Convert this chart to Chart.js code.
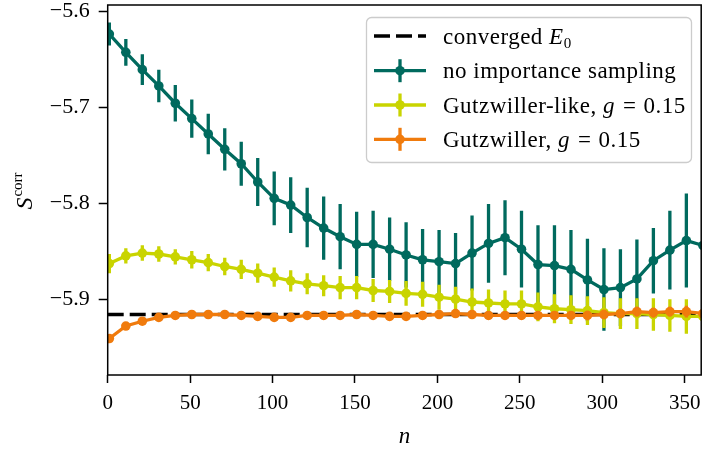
<!DOCTYPE html>
<html><head><meta charset="utf-8">
<script src="https://cdn.jsdelivr.net/npm/chart.js@4/dist/chart.umd.min.js"></script>
<style>html,body{margin:0;padding:0;background:#fff}#wrap{width:706px;height:450px}</style>
</head><body><div id="wrap"><canvas id="c" width="706" height="450"></canvas></div>
<script>
// ---- data ----
const nValues = [1,11,21,31,41,51,61,71,81,91,101,111,121,131,141,151,161,171,181,191,201,211,221,231,241,251,261,271,281,291,301,311,321,331,341,351,361];
const noImportance = [-5.624,-5.643,-5.661,-5.678,-5.696,-5.712,-5.728,-5.744,-5.759,-5.778,-5.795,-5.802,-5.815,-5.826,-5.835,-5.843,-5.843,-5.848,-5.854,-5.859,-5.861,-5.863,-5.852,-5.842,-5.836,-5.848,-5.864,-5.865,-5.869,-5.880,-5.890,-5.888,-5.879,-5.860,-5.849,-5.839,-5.844];
const noImportanceErr = [0.012,0.014,0.016,0.017,0.019,0.020,0.021,0.022,0.023,0.025,0.028,0.029,0.031,0.033,0.034,0.034,0.035,0.033,0.034,0.032,0.033,0.032,0.039,0.041,0.039,0.040,0.041,0.042,0.041,0.043,0.043,0.040,0.041,0.034,0.041,0.049,0.050];
const gutzLike = [-5.863,-5.855,-5.852,-5.853,-5.856,-5.859,-5.862,-5.866,-5.869,-5.873,-5.877,-5.881,-5.884,-5.886,-5.888,-5.888,-5.891,-5.892,-5.894,-5.895,-5.898,-5.900,-5.903,-5.904,-5.905,-5.905,-5.908,-5.910,-5.911,-5.912,-5.914,-5.915,-5.915,-5.916,-5.917,-5.918,-5.918];
const gutzLikeErr = [0.010,0.008,0.008,0.008,0.008,0.009,0.009,0.009,0.010,0.010,0.010,0.011,0.011,0.011,0.012,0.012,0.012,0.012,0.013,0.013,0.013,0.013,0.014,0.014,0.014,0.014,0.015,0.015,0.015,0.015,0.016,0.016,0.016,0.017,0.017,0.018,0.018];
const gutz = [-5.941,-5.928,-5.923,-5.919,-5.917,-5.916,-5.916,-5.916,-5.917,-5.918,-5.919,-5.919,-5.917,-5.917,-5.917,-5.916,-5.917,-5.918,-5.918,-5.917,-5.916,-5.915,-5.916,-5.917,-5.917,-5.917,-5.917,-5.917,-5.917,-5.917,-5.916,-5.915,-5.913,-5.914,-5.913,-5.913,-5.915];
const gutzErr = [0.001,0.001,0.001,0.001,0.001,0.001,0.002,0.002,0.002,0.002,0.002,0.002,0.002,0.002,0.003,0.003,0.003,0.003,0.003,0.003,0.003,0.003,0.004,0.004,0.004,0.004,0.004,0.004,0.004,0.005,0.005,0.005,0.005,0.005,0.005,0.006,0.006];
const convergedE0 = -5.916;
const convergedRange = [0, 360];
const xTicks = [0,50,100,150,200,250,300,350];
const yTicks = [-5.9,-5.8,-5.7,-5.6];
const legendLabels = ['converged E0','no importance sampling','Gutzwiller-like, g = 0.15','Gutzwiller, g = 0.15'];

const TEAL = '#006a5e', YEL = '#c9d400', ORA = '#f07b0d';
const SERIF = '"Liberation Serif", "DejaVu Serif", serif';
const LW = 3.3, PR = 4.8;

function pts(ys){ return nValues.map((n,i)=>({x:n,y:ys[i]})); }

const errorBars = {
  id:'errorBars',
  afterDatasetDraw(chart, args){
    const ds = chart.data.datasets[args.index];
    if(!ds.errors) return;
    const {ctx, chartArea:a, scales:{x,y}} = chart;
    ctx.save();
    ctx.beginPath(); ctx.rect(a.left,a.top,a.right-a.left,a.bottom-a.top); ctx.clip();
    ctx.strokeStyle = ds.borderColor; ctx.lineWidth = LW; ctx.lineCap='butt';
    ds.data.forEach((p,i)=>{
      const e = ds.errors[i], px = x.getPixelForValue(p.x);
      ctx.beginPath();
      ctx.moveTo(px, y.getPixelForValue(p.y-e));
      ctx.lineTo(px, y.getPixelForValue(p.y+e));
      ctx.stroke();
    });
    ctx.restore();
  }
};

function drawRich(ctx, x, y, parts){
  let cx = x;
  parts.forEach(p=>{
    ctx.font = (p.it?'italic ':'') + (p.size||23) + 'px ' + SERIF;
    ctx.fillText(p.t, cx, y + (p.dy||0));
    cx += ctx.measureText(p.t).width + (p.after||0);
  });
}

const decor = {
  id:'decor',
  afterDraw(chart){
    const {ctx, chartArea:a} = chart;
    ctx.save();
    // frame
    ctx.strokeStyle='#000'; ctx.lineWidth=1.5;
    ctx.strokeRect(a.left, a.top, a.right-a.left, a.bottom-a.top);
    // legend box
    ctx.beginPath();
    ctx.roundRect(366.5, 17.5, 325, 145, 5);
    ctx.fillStyle='rgba(255,255,255,0.85)'; ctx.fill();
    ctx.strokeStyle='#cccccc'; ctx.lineWidth=1.3; ctx.stroke();
    const rows=[36,70.7,105,139.3];
    const hx0=374, hx1=426, hxm=400;
    ctx.strokeStyle='#000'; ctx.lineWidth=LW; ctx.setLineDash([16,6]);
    ctx.beginPath(); ctx.moveTo(hx0,rows[0]); ctx.lineTo(hx1,rows[0]); ctx.stroke();
    ctx.setLineDash([]);
    [TEAL,YEL,ORA].forEach((c,i)=>{
      const yy=rows[i+1];
      ctx.strokeStyle=c; ctx.fillStyle=c; ctx.lineWidth=LW;
      ctx.beginPath(); ctx.moveTo(hx0,yy); ctx.lineTo(hx1,yy); ctx.stroke();
      ctx.beginPath(); ctx.moveTo(hxm,yy-11.5); ctx.lineTo(hxm,yy+11.5); ctx.stroke();
      ctx.beginPath(); ctx.arc(hxm,yy,PR,0,Math.PI*2); ctx.fill();
    });
    ctx.fillStyle='#000'; ctx.textBaseline='alphabetic'; ctx.textAlign='left';
    ctx.letterSpacing='0.5px';
    const tx=443, off=7.5;
    drawRich(ctx, tx, rows[0]+off, [{t:'converged '},{t:'E',it:true},{t:'0',size:15,dy:4}]);
    drawRich(ctx, tx, rows[1]+off, [{t:'no importance sampling'}]);
    drawRich(ctx, tx, rows[2]+off, [{t:'Gutzwiller-like, '},{t:'g',it:true,after:8},{t:'=',after:7},{t:'0.15'}]);
    drawRich(ctx, tx, rows[3]+off, [{t:'Gutzwiller, '},{t:'g',it:true,after:8},{t:'=',after:7},{t:'0.15'}]);
    ctx.letterSpacing='0px';
    // x title
    ctx.textAlign='center';
    ctx.font='italic 23px '+SERIF;
    ctx.fillText('n', (a.left+a.right)/2, 443);
    // y title
    ctx.save();
    ctx.translate(32, 191); ctx.rotate(-Math.PI/2);
    ctx.textAlign='left';
    ctx.font='italic 24px '+SERIF;
    const sw = ctx.measureText('S').width;
    ctx.font='15px '+SERIF;
    const cw = ctx.measureText('corr').width;
    const start = -(sw+cw+1)/2;
    ctx.font='italic 24px '+SERIF;
    ctx.fillText('S', start, 0);
    ctx.font='15px '+SERIF;
    ctx.fillText('corr', start+sw+1, -10);
    ctx.restore();
    ctx.restore();
  }
};

const fmt = v => (v<0?'\u2212':'') + Math.abs(v).toFixed(1);

new Chart(document.getElementById('c'), {
  type:'line',
  data:{datasets:[
    {label:legendLabels[0], data:convergedRange.map(x=>({x, y:convergedE0})), borderColor:'#000', borderWidth:LW, borderDash:[16,6], pointRadius:0, order:4, clip:0},
    {label:legendLabels[1], data:pts(noImportance), errors:noImportanceErr, borderColor:TEAL, backgroundColor:TEAL, borderWidth:LW, pointRadius:PR, pointBorderWidth:0, pointBackgroundColor:TEAL, order:3, clip:0},
    {label:legendLabels[2], data:pts(gutzLike), errors:gutzLikeErr, borderColor:YEL, backgroundColor:YEL, borderWidth:LW, pointRadius:PR, pointBorderWidth:0, pointBackgroundColor:YEL, order:2, clip:0},
    {label:legendLabels[3], data:pts(gutz), errors:gutzErr, borderColor:ORA, backgroundColor:ORA, borderWidth:LW, pointRadius:PR, pointBorderWidth:0, pointBackgroundColor:ORA, order:1, clip:0}
  ]},
  options:{
    responsive:false, animation:false, devicePixelRatio:1,
    layout:{padding:{top:5,right:2.7,left:0,bottom:0}},
    plugins:{legend:{display:false}, tooltip:{enabled:false}},
    elements:{line:{tension:0}},
    scales:{
      x:{type:'linear', min:0, max:360,
        afterBuildTicks:s=>{s.ticks=xTicks.map(v=>({value:v}));},
        afterFit:s=>{s.height=75; s.paddingLeft=0; s.paddingRight=0;},
        grid:{drawOnChartArea:false, drawTicks:true, tickLength:8, tickWidth:1.5, tickColor:'#000'},
        border:{display:false},
        ticks:{color:'#000', font:{family:SERIF,size:21}, padding:8, maxRotation:0, autoSkip:false, callback:v=>String(v)}
      },
      y:{type:'linear', min:-5.979, max:-5.5937,
        afterBuildTicks:s=>{s.ticks=yTicks.map(v=>({value:v}));},
        afterFit:s=>{s.width=107.7; s.paddingTop=0; s.paddingBottom=0;},
        grid:{drawOnChartArea:false, drawTicks:true, tickLength:9, tickWidth:1.5, tickColor:'#000'},
        border:{display:false},
        ticks:{color:'#000', font:{family:SERIF,size:22}, padding:9, autoSkip:false, callback:v=>fmt(v)}
      }
    }
  },
  plugins:[errorBars, decor]
});
</script></body></html>
